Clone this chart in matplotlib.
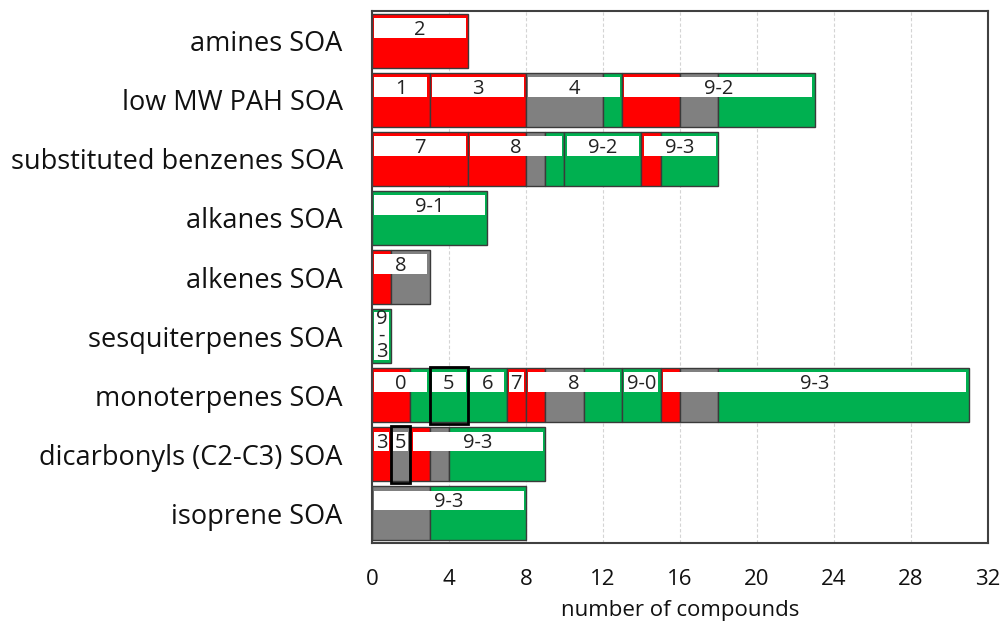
import matplotlib
matplotlib.use("Agg")
import matplotlib.pyplot as plt

# categories top to bottom
categories = ["amines SOA", "low MW PAH SOA", "substituted benzenes SOA",
              "alkanes SOA", "alkenes SOA", "sesquiterpenes SOA",
              "monoterpenes SOA", "dicarbonyls (C2-C3) SOA", "isoprene SOA"]

# one entry per labelled group: row, label, counts of red / gray / green
group_row = [0,
             1, 1, 1, 1,
             2, 2, 2, 2,
             3,
             4,
             5,
             6, 6, 6, 6, 6, 6, 6,
             7, 7, 7,
             8]
group_label = ["2",
               "1", "3", "4", "9-2",
               "7", "8", "9-2", "9-3",
               "9-1",
               "8",
               "9\n-\n3",
               "0", "5", "6", "7", "8", "9-0", "9-3",
               "3", "5", "9-3",
               "9-3"]
group_red = [5,
             3, 5, 0, 3,
             5, 3, 0, 1,
             0,
             1,
             0,
             2, 0, 0, 1, 1, 0, 1,
             1, 0, 1,
             0]
group_gray = [0,
              0, 0, 4, 2,
              0, 1, 0, 0,
              0,
              2,
              0,
              0, 0, 0, 0, 2, 0, 2,
              0, 1, 1,
              3]
group_green = [0,
               0, 0, 1, 5,
               0, 1, 4, 3,
               6,
               0,
               1,
               1, 2, 2, 0, 2, 2, 13,
               0, 0, 5,
               5]
# groups outlined with a thick black box
group_marked = [False,
                False, False, False, False,
                False, False, False, False,
                False,
                False,
                False,
                False, True, False, False, False, False, False,
                False, True, False,
                False]

x_ticks = [0, 4, 8, 12, 16, 20, 24, 28, 32]

RED = "#FF0000"
GRAY = "#808080"
GREEN = "#00B050"
EDGE = "#3a3a3a"
FONT = "Open Sans"


def main():
    plt.rcParams['font.family'] = [FONT, 'DejaVu Sans']
    fig = plt.figure(figsize=(10.05, 6.24), dpi=100)
    ax = fig.add_axes([0.370, 0.130, 0.613, 0.852])

    bar_h = 0.91
    offsets = [0.0] * len(categories)

    for i, row in enumerate(group_row):
        start = offsets[row]
        left = start
        for n, col in ((group_red[i], RED), (group_gray[i], GRAY),
                       (group_green[i], GREEN)):
            if n == 0:
                continue
            ax.barh(row, n, left=left, height=bar_h, color=col,
                    edgecolor=EDGE, linewidth=1.0, zorder=2)
            left += n
        width = left - start
        offsets[row] = left

        # white label box in the upper half of the group
        label = group_label[i]
        if "\n" in label:
            # stacked label fills the whole (narrow) bar
            box_h = 0.80
            box_c = row
            text_y = row - 0.01
        else:
            box_h = 0.33
            box_c = row - bar_h / 2 + 0.07 + box_h / 2
            text_y = box_c + 0.035
        ax.barh(box_c, width - 0.24, left=start + 0.12, height=box_h,
                color="white", edgecolor="none", zorder=3)
        ax.text(start + width / 2, text_y, label, ha="center",
                va="center", fontsize=14.5, color="#222222", zorder=4,
                linespacing=0.78)

        if group_marked[i]:
            ax.barh(row, width, left=start, height=bar_h + 0.05,
                    fill=False, edgecolor="black", linewidth=2.0, zorder=5)

    ax.set_xlim(0, 32)
    ax.set_ylim(8.5, -0.5)
    ax.set_xticks(x_ticks)
    ax.set_xticklabels([str(t) for t in x_ticks])
    ax.set_yticks(range(len(categories)))
    ax.set_yticklabels(categories)
    ax.tick_params(axis="both", length=0, colors="#111111")
    ax.tick_params(axis="x", pad=19, labelsize=16)
    ax.tick_params(axis="y", pad=21, labelsize=19.5)
    ax.set_xlabel("number of compounds", fontsize=16, color="#111111",
                  labelpad=7)

    ax.grid(axis="x", color="#d4d4d4", linestyle=(0, (3, 2)), linewidth=0.8,
            zorder=0)
    ax.set_axisbelow(True)
    for s in ax.spines.values():
        s.set_color("#404040")
        s.set_linewidth(1.5)
        s.set_zorder(6)

    plt.savefig("out.png", dpi=100)


if __name__ == "__main__":
    main()
